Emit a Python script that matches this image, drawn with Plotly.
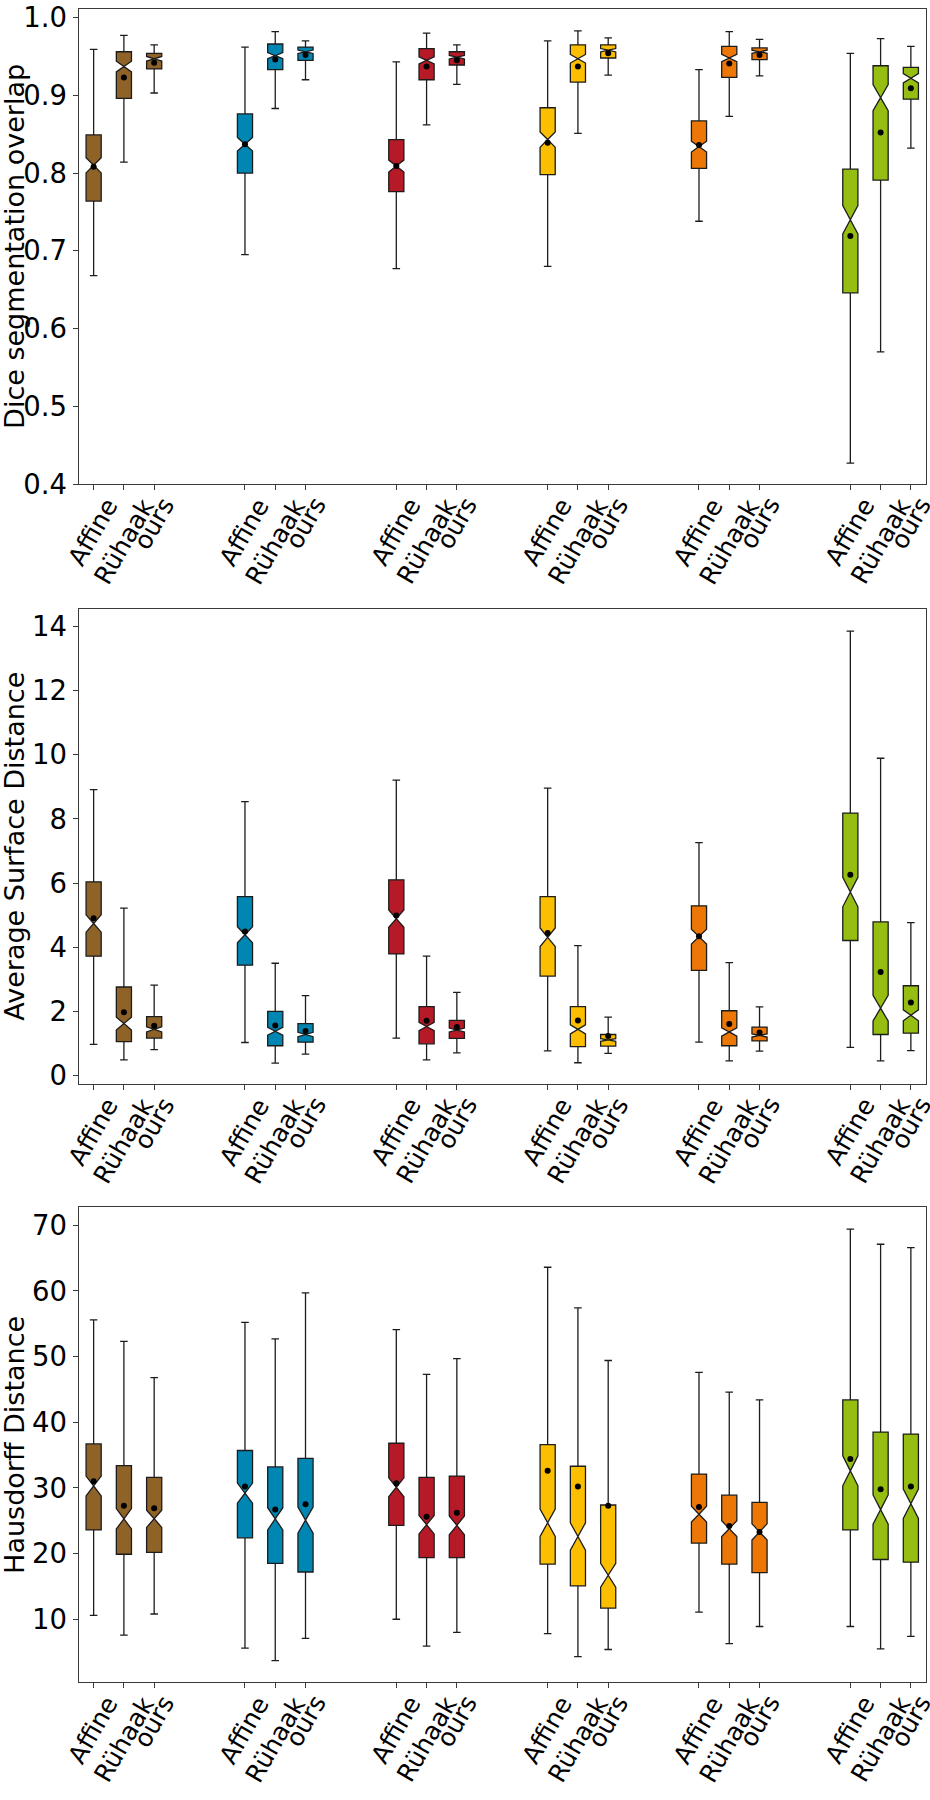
import plotly.graph_objects as go

# ---------------- data ----------------
METHODS = ["Affine", "Rühaak", "ours"]
ORGAN_COLORS = ["#8F6228", "#0086B2", "#B61A26", "#FBBE00", "#EC7707", "#96BD12"]

# order: organ1 (Affine, Rühaak, ours), organ2 (...), ... organ6
DICE_LOW = [0.668, 0.814, 0.903, 0.695, 0.883, 0.920, 0.677, 0.862, 0.914,
            0.680, 0.851, 0.926, 0.738, 0.873, 0.925, 0.427, 0.570, 0.832]
DICE_Q1 = [0.764, 0.896, 0.934, 0.800, 0.933, 0.945, 0.776, 0.920, 0.939,
           0.798, 0.917, 0.948, 0.806, 0.923, 0.946, 0.646, 0.791, 0.895]
DICE_MED = [0.810, 0.937, 0.947, 0.837, 0.951, 0.956, 0.809, 0.945, 0.949,
            0.843, 0.947, 0.958, 0.834, 0.948, 0.956, 0.740, 0.897, 0.922]
DICE_Q3 = [0.849, 0.956, 0.954, 0.876, 0.966, 0.962, 0.843, 0.960, 0.956,
           0.884, 0.965, 0.965, 0.867, 0.963, 0.961, 0.805, 0.938, 0.936]
DICE_HIGH = [0.959, 0.977, 0.965, 0.962, 0.982, 0.970, 0.943, 0.980, 0.965,
             0.970, 0.983, 0.974, 0.933, 0.982, 0.972, 0.954, 0.973, 0.963]
DICE_MEAN = [0.808, 0.923, 0.942, 0.837, 0.946, 0.952, 0.809, 0.937, 0.945,
             0.839, 0.937, 0.954, 0.836, 0.941, 0.952, 0.719, 0.852, 0.909]
DICE_NOTCH = [0.0098, 0.0069, 0.0030, 0.0087, 0.0040, 0.0022, 0.0077, 0.0046, 0.0022,
              0.0099, 0.0055, 0.0022, 0.0070, 0.0046, 0.0020, 0.0183, 0.0169, 0.0060]

ASD_LOW = [0.97, 0.49, 0.81, 1.03, 0.39, 0.67, 1.17, 0.49, 0.71,
           0.77, 0.40, 0.69, 1.04, 0.46, 0.76, 0.88, 0.46, 0.78]
ASD_Q1 = [3.72, 1.06, 1.17, 3.44, 0.93, 1.04, 3.79, 0.99, 1.16,
          3.10, 0.90, 0.92, 3.28, 0.93, 1.08, 4.21, 1.28, 1.32]
ASD_MED = [4.74, 1.62, 1.44, 4.39, 1.38, 1.28, 4.89, 1.53, 1.42,
           4.31, 1.44, 1.11, 4.33, 1.36, 1.25, 5.72, 2.10, 1.88]
ASD_Q3 = [6.04, 2.76, 1.84, 5.58, 2.00, 1.62, 6.10, 2.15, 1.72,
          5.58, 2.15, 1.28, 5.29, 2.02, 1.51, 8.18, 4.79, 2.80]
ASD_HIGH = [8.91, 5.22, 2.82, 8.54, 3.50, 2.49, 9.21, 3.72, 2.59,
            8.96, 4.05, 1.82, 7.26, 3.52, 2.14, 13.85, 9.89, 4.77]
ASD_MEAN = [4.90, 1.97, 1.55, 4.49, 1.56, 1.39, 4.99, 1.71, 1.51,
            4.44, 1.72, 1.23, 4.34, 1.61, 1.34, 6.26, 3.23, 2.28]
ASD_NOTCH = [0.27, 0.20, 0.08, 0.25, 0.12, 0.07, 0.27, 0.13, 0.06,
             0.29, 0.14, 0.04, 0.23, 0.13, 0.05, 0.46, 0.40, 0.17]

HD_LOW = [10.6, 7.6, 10.8, 5.6, 3.7, 7.1, 10.0, 5.9, 8.0,
          7.8, 4.3, 5.4, 11.1, 6.3, 8.9, 8.9, 5.5, 7.4]
HD_Q1 = [23.6, 19.9, 20.2, 22.4, 18.5, 17.2, 24.3, 19.4, 19.4,
         18.4, 15.1, 11.7, 21.6, 18.4, 17.1, 23.6, 19.1, 18.7]
HD_MED = [30.3, 25.3, 25.3, 29.2, 25.3, 25.1, 30.1, 24.4, 24.3,
          24.7, 22.6, 16.7, 26.0, 23.8, 23.3, 32.6, 26.7, 27.6]
HD_Q3 = [36.7, 33.4, 31.6, 35.7, 33.2, 34.5, 36.8, 31.6, 31.8,
         36.6, 33.3, 27.4, 32.1, 28.9, 27.8, 43.4, 38.5, 38.2]
HD_HIGH = [55.6, 52.3, 46.8, 55.2, 52.7, 59.7, 54.1, 47.3, 49.7,
           63.6, 57.4, 49.4, 47.6, 44.6, 43.4, 69.4, 67.1, 66.6]
HD_MEAN = [31.0, 27.3, 26.9, 30.2, 26.7, 27.5, 30.7, 25.6, 26.2,
           32.6, 30.2, 27.3, 27.1, 24.2, 23.3, 34.4, 29.8, 30.2]
HD_NOTCH = [1.51, 1.55, 1.31, 1.53, 1.69, 1.99, 1.44, 1.40, 1.43,
            2.09, 2.09, 1.81, 1.21, 1.21, 1.23, 2.28, 2.23, 2.24]

DICE_TICKS = [0.4, 0.5, 0.6, 0.7, 0.8, 0.9, 1.0]
ASD_TICKS = [0, 2, 4, 6, 8, 10, 12, 14]
HD_TICKS = [10, 20, 30, 40, 50, 60, 70]

# ---------------- layout constants ----------------
W, H = 930, 1800
X0, X1 = 78.5, 926.0
GROUP_STEP = 5
PANELS_PX = [(1.5, 482.5), (609.0, 1090.0), (1215.0, 1696.0)]  # top, bottom in px

panels = [
    dict(title="Dice segmentation overlap", low=DICE_LOW, q1=DICE_Q1, med=DICE_MED, q3=DICE_Q3,
         high=DICE_HIGH, mean=DICE_MEAN, notch=DICE_NOTCH, ticks=DICE_TICKS,
         ticktext=["%.1f" % t for t in DICE_TICKS], yrange=[0.3996, 1.0104]),
    dict(title="Average Surface Distance", low=ASD_LOW, q1=ASD_Q1, med=ASD_MED, q3=ASD_Q3,
         high=ASD_HIGH, mean=ASD_MEAN, notch=ASD_NOTCH, ticks=ASD_TICKS,
         ticktext=[str(t) for t in ASD_TICKS], yrange=[-0.265, 14.535]),
    dict(title="Hausdorff Distance", low=HD_LOW, q1=HD_Q1, med=HD_MED, q3=HD_Q3,
         high=HD_HIGH, mean=HD_MEAN, notch=HD_NOTCH, ticks=HD_TICKS,
         ticktext=[str(t) for t in HD_TICKS], yrange=[0.40, 72.7]),
]

n_groups = len(ORGAN_COLORS)
n_meth = len(METHODS)
positions = [1 + GROUP_STEP * g + m for g in range(n_groups) for m in range(n_meth)]

fig = go.Figure()
annotations = []
LINE_COL = "#1c1c1c"
AX_COL = "#3a3a3a"
FONT = "DejaVu Sans"

for pi, p in enumerate(panels):
    xa = "x" if pi == 0 else "x%d" % (pi + 1)
    ya = "y" if pi == 0 else "y%d" % (pi + 1)
    top_px, bot_px = PANELS_PX[pi]
    dom = [1 - bot_px / H, 1 - top_px / H]

    for g, col in enumerate(ORGAN_COLORS):
        idx = [n_meth * g + m for m in range(n_meth)]
        fig.add_trace(go.Box(
            x=[positions[i] for i in idx],
            q1=[p["q1"][i] for i in idx],
            median=[p["med"][i] for i in idx],
            q3=[p["q3"][i] for i in idx],
            lowerfence=[p["low"][i] for i in idx],
            upperfence=[p["high"][i] for i in idx],
            notched=True,
            notchspan=[p["notch"][i] for i in idx],
            notchwidth=0.5,
            width=0.5,
            whiskerwidth=0.5,
            fillcolor=col,
            line=dict(color=LINE_COL, width=1.3),
            boxpoints=False,
            hoverinfo="skip",
            showlegend=False,
            xaxis=xa, yaxis=ya,
        ))
    fig.add_trace(go.Scatter(
        x=positions, y=p["mean"], mode="markers",
        marker=dict(color="black", size=6),
        hoverinfo="skip", showlegend=False, xaxis=xa, yaxis=ya,
    ))

    xkey = "xaxis" if pi == 0 else "xaxis%d" % (pi + 1)
    ykey = "yaxis" if pi == 0 else "yaxis%d" % (pi + 1)
    fig.layout[xkey] = dict(
        domain=[X0 / W, X1 / W], range=[positions[0] - 0.5, positions[-1] + 0.5],
        anchor=ya, tickvals=positions, showticklabels=False,
        ticks="outside", ticklen=5, tickwidth=1, tickcolor=AX_COL,
        showline=True, mirror=True, linecolor=AX_COL, linewidth=1,
        showgrid=False, zeroline=False, fixedrange=True,
    )
    fig.layout[ykey] = dict(
        domain=dom, range=p["yrange"], anchor=xa,
        tickvals=p["ticks"], ticktext=p["ticktext"],
        tickfont=dict(size=27.5, family=FONT, color="black"),
        ticklabeloverflow="allow",
        ticks="outside", ticklen=5, tickwidth=1, tickcolor=AX_COL,
        showline=True, mirror=True, linecolor=AX_COL, linewidth=1,
        showgrid=False, zeroline=False, fixedrange=True,
    )

    # y axis title
    annotations.append(dict(
        text=p["title"], textangle=-90, xref="paper", yref="paper",
        x=15 / W, y=(dom[0] + dom[1]) / 2, xanchor="center", yanchor="middle",
        showarrow=False, font=dict(size=27, family=FONT, color="black"),
    ))
    # rotated category labels
    for k, pos in enumerate(positions):
        annotations.append(dict(
            text=METHODS[k % n_meth], textangle=-60, xref=xa, yref="paper",
            x=pos, y=dom[0], xanchor="center", yanchor="top", yshift=-6,
            showarrow=False, font=dict(size=25, family=FONT, color="black"),
        ))

fig.update_layout(
    width=W, height=H,
    margin=dict(l=0, r=0, t=0, b=0),
    plot_bgcolor="white", paper_bgcolor="white",
    font=dict(family=FONT, color="black"),
    annotations=annotations,
    boxmode="overlay",
)

fig.write_html(
    "out.html",
    config={"displayModeBar": False},
    post_script="document.body.style.margin='0';document.body.style.overflow='hidden';",
)
